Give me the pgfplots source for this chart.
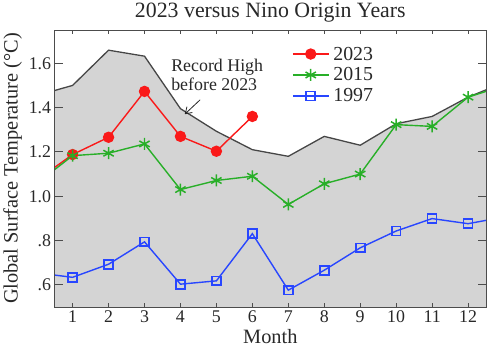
\documentclass[border=0pt]{standalone}
\usepackage{pgfplots}
\pgfplotsset{compat=1.18}
\usepackage{fontspec}
\setmainfont{Liberation Serif}
\usetikzlibrary{arrows.meta}
\definecolor{c23}{RGB}{250,25,25}
\definecolor{c15}{RGB}{40,175,40}
\definecolor{c97}{RGB}{40,70,255}
\definecolor{fillg}{RGB}{212,212,212}
\definecolor{recg}{RGB}{70,70,70}
\definecolor{txt}{RGB}{40,40,40}
\begin{document}
\begin{tikzpicture}
\begin{axis}[
  scale only axis, width=433bp, height=278bp,
  xmin=0.5, xmax=12.5, ymin=0.5, ymax=1.75,
  xtick={1,2,...,12},
  ytick={0.6,0.8,1.0,1.2,1.4,1.6},
  yticklabels={.6,.8,1.0,1.2,1.4,1.6},
  tick align=inside,
  xtick style={/pgfplots/major tick length=4.5bp},
  ytick style={/pgfplots/major tick length=8bp},
  tick style={color=black!70, line width=0.8bp},
  axis line style={black!70, line width=0.8bp},
  axis on top,
  /pgf/number format/assume math mode=true,
  ticklabel style={font=\fontsize{18}{20}\selectfont, text=txt},
  title={2023 versus Nino Origin Years},
  title style={font=\fontsize{22}{25}\selectfont, text=txt, yshift=-2bp},
  xlabel={Month},
  ylabel={Global Surface Temperature (°C)},
  label style={font=\fontsize{20.5}{23}\selectfont, text=txt},
  legend cell align=left,
  legend style={draw=none, fill=none, at={(axis cs:7.1,1.683)}, anchor=north west,
    inner sep=0pt, row sep=3bp, font=\fontsize{20}{22}\selectfont, text=txt,
    nodes={inner sep=1bp, text height=14bp, text depth=2bp},
    /tikz/every odd column/.append style={column sep=3bp}},
  legend image code/.code={\draw[#1, mark indices={2}] plot coordinates {(0bp,0bp) (18bp,0bp) (36bp,0bp)};},
]
% record high area
\addplot[fill=fillg, draw=none, forget plot] coordinates {
 (0.5,1.477) (1,1.50) (2,1.659) (3,1.632) (4,1.395) (5,1.293) (6,1.21)
 (7,1.18) (8,1.27) (9,1.23) (10,1.327) (11,1.36) (12,1.447) (12.5,1.48)
 (12.5,0.5) (0.5,0.5)} -- cycle;
\addplot[recg, line width=1.3bp, forget plot] coordinates {
 (0.5,1.477) (1,1.50) (2,1.659) (3,1.632) (4,1.395) (5,1.293) (6,1.21)
 (7,1.18) (8,1.27) (9,1.23) (10,1.327) (11,1.36) (12,1.447) (12.5,1.48)};
% 2023
\addplot[c23, line width=1.4bp, mark=*, mark size=5bp, mark options={fill=c23}, mark indices={2,...,7}] coordinates {
 (0.5,1.13) (1,1.188) (2,1.266) (3,1.473) (4,1.27) (5,1.203) (6,1.36)};
\addlegendentry{2023}
% 2015
\addplot[c15, line width=1.4bp, mark=asterisk, mark size=6bp, mark options={line width=1.5bp}, mark indices={2,...,13}] coordinates {
 (0.5,1.12) (1,1.183) (2,1.194) (3,1.236) (4,1.03) (5,1.071) (6,1.09)
 (7,0.963) (8,1.056) (9,1.10) (10,1.323) (11,1.315) (12,1.447) (12.5,1.473)};
\addlegendentry{2015}
% 1997
\addplot[c97, line width=1.4bp, mark=square, mark size=4.5bp, mark options={line width=1.7bp, fill=fillg}, mark indices={2,...,13}] coordinates {
 (0.5,0.644) (1,0.634) (2,0.693) (3,0.794) (4,0.603) (5,0.618) (6,0.831)
 (7,0.576) (8,0.666) (9,0.767) (10,0.843) (11,0.899) (12,0.876) (12.5,0.891)};
\addlegendentry{1997}
\node[anchor=north west, inner sep=0pt, align=left, text=txt,
  font=\fontsize{18}{19}\selectfont] at (axis cs:3.74,1.62) {Record High\\before 2023};
\draw[-{Straight Barb[length=6bp,width=8bp]}, line width=0.8bp, black!85]
  (axis cs:4.547,1.435) -- (axis cs:4.12,1.37);
\end{axis}
\path (current axis.south west) ++(-53bp,-49bp) rectangle ++(495bp,357bp);
\end{tikzpicture}
\end{document}
